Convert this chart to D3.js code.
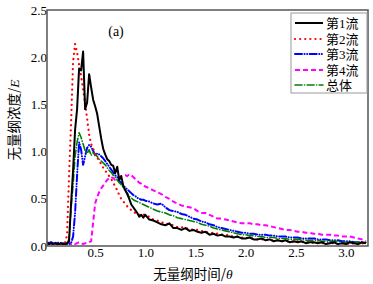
<!DOCTYPE html>
<html><head><meta charset="utf-8">
<script src="https://cdn.jsdelivr.net/npm/d3@7"></script>
<style>
body{margin:0;background:#fff;}
text{font-family:"Liberation Serif","Noto Sans CJK SC",serif;}
</style></head>
<body><svg id="c" width="373" height="284"></svg>
<script>
// sampling grid of the dimensionless time (fine before 1.0, coarser after)
const time = [...d3.range(2, 100, 2), ...d3.range(100, 323, 4)].map(v => v / 100);

const flow1 = [0.03,0.02,0.03,0.02,0.03,0.02,0.02,0.03,0.02,0.02,0.03,
 0.05,0.45,0.80,1.23,1.45,1.88,1.86,2.06,1.45,1.52,1.82,1.68,1.55,1.48,1.40,1.27,1.14,1.03,0.97,
 0.92,0.90,0.86,0.85,0.77,0.84,0.70,0.74,0.64,0.59,0.55,0.50,0.44,0.41,0.38,0.35,0.31,0.33,0.30,
 0.33,0.28,0.27,0.25,0.23,0.22,0.24,0.19,0.19,0.17,0.19,0.16,0.17,0.15,0.14,0.15,0.12,0.13,0.11,0.12,
 0.10,0.10,0.09,0.10,0.08,0.08,0.09,0.07,0.07,0.08,0.06,0.07,0.05,0.06,0.05,0.06,0.04,0.05,0.04,0.05,
 0.03,0.04,0.04,0.03,0.04,0.02,0.03,0.04,0.02,0.03,0.02,0.04,0.03,0.02,0.04,0.03];

const flow2 = [0.02,0.03,0.02,0.02,0.03,0.02,0.03,0.02,0.02,0.03,
 0.12,0.75,1.30,1.95,2.14,2.05,1.92,1.80,1.66,1.51,1.35,1.18,1.08,1.03,0.98,0.94,0.90,0.87,0.83,0.80,
 0.77,0.74,0.71,0.67,0.63,0.59,0.54,0.50,0.47,0.45,0.42,0.40,0.38,0.36,0.35,0.34,0.33,0.33,0.34,
 0.32,0.31,0.28,0.27,0.25,0.24,0.23,0.22,0.20,0.20,0.19,0.18,0.17,0.17,0.16,0.15,0.14,0.14,0.13,0.12,
 0.12,0.11,0.10,0.10,0.09,0.09,0.08,0.08,0.07,0.07,0.07,0.06,0.06,0.06,0.05,0.05,0.05,0.04,0.05,0.04,
 0.04,0.04,0.03,0.04,0.03,0.03,0.03,0.03,0.02,0.03,0.03,0.02,0.03,0.02,0.03,0.02];

const flow3 = [0.04,0.03,0.04,0.03,0.03,0.04,0.03,0.03,0.02,0.03,0.02,0.02,0.03,
 0.10,0.35,0.75,1.10,1.02,0.86,0.95,1.04,1.07,1.05,1.01,0.96,0.98,0.97,0.95,0.93,0.90,
 0.87,0.84,0.81,0.78,0.75,0.73,0.69,0.67,0.64,0.62,0.60,0.58,0.56,0.54,0.53,0.51,0.50,0.49,0.49,
 0.48,0.47,0.45,0.44,0.45,0.41,0.38,0.37,0.36,0.34,0.33,0.31,0.29,0.28,0.26,0.25,0.23,0.22,0.20,0.19,
 0.18,0.17,0.16,0.15,0.14,0.14,0.13,0.13,0.12,0.12,0.12,0.11,0.11,0.10,0.10,0.10,0.09,0.09,0.09,0.08,
 0.08,0.08,0.08,0.07,0.07,0.07,0.06,0.06,0.06,0.05,0.05,0.05,0.04,0.04,0.04,0.03];

const flow4 = [0.03,0.02,0.04,0.03,0.02,0.03,0.04,0.02,0.03,0.02,0.03,0.04,0.02,0.03,0.02,0.03,0.04,0.03,0.02,0.03,0.03,0.04,0.05,
 0.25,0.45,0.52,0.57,0.61,0.64,0.67,0.70,0.72,0.73,0.72,0.70,0.71,0.73,0.74,0.75,0.75,0.74,0.76,0.75,0.73,0.71,0.69,0.67,0.66,0.64,
 0.63,0.61,0.59,0.57,0.55,0.52,0.50,0.47,0.45,0.43,0.42,0.41,0.40,0.37,0.35,0.35,0.33,0.31,0.29,0.29,
 0.28,0.27,0.26,0.25,0.24,0.24,0.24,0.23,0.23,0.22,0.22,0.21,0.20,0.19,0.18,0.17,0.17,0.16,0.15,0.15,
 0.14,0.14,0.13,0.13,0.12,0.12,0.12,0.11,0.11,0.10,0.10,0.10,0.09,0.08,0.07,0.05];

const overall = [0.02,0.02,0.03,0.02,0.02,0.03,0.02,0.02,0.03,0.02,0.02,
 0.08,0.40,0.65,0.95,1.10,1.20,1.15,1.08,1.01,0.98,1.02,0.96,0.99,0.97,0.95,0.92,0.90,0.88,0.86,
 0.83,0.80,0.78,0.75,0.73,0.70,0.67,0.65,0.62,0.59,0.56,0.53,0.51,0.49,0.48,0.47,0.46,0.45,0.44,
 0.43,0.41,0.39,0.37,0.36,0.35,0.33,0.32,0.30,0.29,0.28,0.27,0.26,0.25,0.23,0.22,0.21,0.19,0.18,0.17,
 0.16,0.15,0.14,0.13,0.12,0.12,0.11,0.11,0.10,0.10,0.09,0.09,0.09,0.08,0.08,0.08,0.07,0.07,0.07,0.07,
 0.06,0.06,0.06,0.06,0.05,0.05,0.05,0.05,0.05,0.04,0.04,0.04,0.04,0.04,0.03,0.04];

const seriesNames = ["第1流","第2流","第3流","第4流","总体"];
const xTicks = [0.5,1.0,1.5,2.0,2.5,3.0];
const yTicks = [0.0,0.5,1.0,1.5,2.0,2.5];

const styles = [
  {color:"#000000", width:2, dash:null, cap:"butt"},
  {color:"#ff0000", width:2.2, dash:"0.1,5", cap:"round"},
  {color:"#0000ff", width:2, dash:"7,2.5,0.1,2.5,0.1,2.5", cap:"round"},
  {color:"#ff00ff", width:2, dash:"5,3", cap:"butt"},
  {color:"#008000", width:1.6, dash:"7,2.5,0.1,2.5", cap:"round"}
];
const allSeries = [flow1, flow2, flow3, flow4, overall];

const svg = d3.select("#c");
const L = 47, R = 368, T = 10, B = 246;
const x = d3.scaleLinear().domain([0.02, 3.22]).range([L, R]);
const y = d3.scaleLinear().domain([0, 2.5]).range([B, T]);

svg.append("clipPath").attr("id","cp").append("rect")
  .attr("x", L).attr("y", T).attr("width", R-L).attr("height", B-T);

const line = d3.line().x((d,i)=>x(time[i])).y(d=>y(d));
const plot = svg.append("g").attr("clip-path","url(#cp)");
const order = [3,2,4,1,0];
order.forEach(k=>{
  const s = styles[k];
  plot.append("path").datum(allSeries[k]).attr("d", line)
    .attr("fill","none").attr("stroke", s.color).attr("stroke-width", s.width)
    .attr("stroke-dasharray", s.dash).attr("stroke-linecap", s.cap)
    .attr("stroke-linejoin","round");
});

// axes
const xAxis = d3.axisBottom(x).tickValues(xTicks).tickFormat(d3.format(".1f")).tickSize(0).tickPadding(2);
const gx = svg.append("g").attr("transform",`translate(0,${B})`).call(xAxis);
gx.select(".domain").remove();
gx.selectAll("text").attr("font-size",13).attr("fill","#000").attr("font-family","Liberation Serif");
const yAxis = d3.axisLeft(y).tickValues(yTicks).tickFormat(d3.format(".1f")).tickSize(0).tickPadding(0);
const gy = svg.append("g").attr("transform",`translate(${L},0)`).call(yAxis);
gy.select(".domain").remove();
gy.selectAll("text").attr("font-size",13).attr("fill","#000").attr("font-family","Liberation Serif");

svg.append("rect").attr("x",L).attr("y",T).attr("width",R-L).attr("height",B-T)
  .attr("fill","none").attr("stroke","#555").attr("stroke-width",1.5);

// panel tag
svg.append("text").attr("x",116).attr("y",36).attr("text-anchor","middle")
  .attr("font-size",14).text("(a)");

// axis titles
const xt = svg.append("text").attr("x",193).attr("y",279).attr("text-anchor","middle").attr("font-size",13.5);
xt.append("tspan").attr("font-family","Noto Sans CJK SC").text("无量纲时间/");
xt.append("tspan").attr("font-style","italic").attr("font-family","Liberation Serif").text("θ");
const yt = svg.append("text").attr("transform","translate(19,120) rotate(-90)").attr("text-anchor","middle").attr("font-size",13.5);
yt.append("tspan").attr("font-family","Noto Sans CJK SC").text("无量纲浓度/");
yt.append("tspan").attr("font-style","italic").attr("font-family","Liberation Serif").text("E");

// legend
const lg = svg.append("g");
lg.append("rect").attr("x",291).attr("y",13).attr("width",76).attr("height",80)
  .attr("fill","#fff").attr("stroke","#999").attr("stroke-width",1);
const rowY = [23,39,54,70,85];
seriesNames.forEach((n,k)=>{
  const s = styles[k];
  lg.append("line").attr("x1",295).attr("x2",323).attr("y1",rowY[k]).attr("y2",rowY[k])
    .attr("stroke",s.color).attr("stroke-width",s.width).attr("stroke-dasharray",s.dash)
    .attr("stroke-linecap",s.cap);
  lg.append("text").attr("x",326).attr("y",rowY[k]+5).attr("font-size",13)
    .attr("font-family","Noto Sans CJK SC").text(n);
});
</script></body></html>
